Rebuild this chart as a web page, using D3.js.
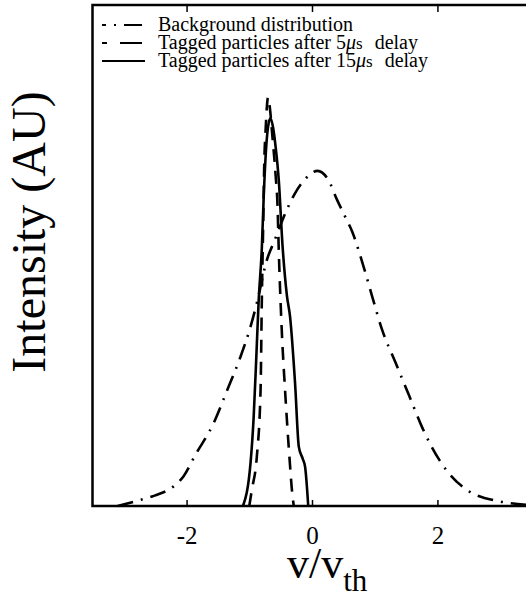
<!DOCTYPE html>
<html>
<head>
<meta charset="utf-8">
<script src="https://d3js.org/d3.v7.min.js"></script>
<style>
  body { margin: 0; background: #fff; }
  text { font-family: "Liberation Serif", "Times New Roman", serif; fill: #000; }
</style>
</head>
<body>
<div id="chart"></div>
<script>
// background distribution (v/vth, intensity)
var bgV = [-3.1, -2.8, -2.55, -2.18, -2.05, -1.86, -1.57, -1.35, -1.14, -0.98, -0.88, -0.72, -0.6, -0.41, -0.28, -0.12, 0.09, 0.26, 0.40, 0.53, 0.64, 0.81, 0.96, 1.12, 1.33, 1.55, 1.76, 2.04, 2.47, 3.0, 3.5];
var bgI = [0.0, 0.010, 0.019, 0.042, 0.059, 0.102, 0.165, 0.232, 0.298, 0.358, 0.405, 0.491, 0.529, 0.589, 0.622, 0.651, 0.669, 0.651, 0.611, 0.577, 0.548, 0.483, 0.418, 0.351, 0.287, 0.220, 0.156, 0.090, 0.032, 0.009, 0.002];

// tagged after 5 us
var t5V = [-1.00, -0.96, -0.88, -0.82, -0.80, -0.78, -0.76, -0.74, -0.70, -0.66, -0.64, -0.58, -0.55, -0.53, -0.48, -0.43, -0.36, -0.31, -0.29];
var t5I = [0.0, 0.032, 0.098, 0.232, 0.411, 0.55, 0.69, 0.75, 0.816, 0.78, 0.75, 0.66, 0.60, 0.511, 0.345, 0.232, 0.098, 0.019, 0.0];

// tagged after 15 us
var t15V = [-1.10, -0.98, -0.93, -0.89, -0.85, -0.80, -0.77, -0.73, -0.69, -0.66, -0.62, -0.58, -0.53, -0.47, -0.40, -0.35, -0.27, -0.21, -0.15, -0.11, -0.06];
var t15I = [0.0, 0.086, 0.178, 0.291, 0.411, 0.515, 0.617, 0.717, 0.765, 0.774, 0.755, 0.717, 0.651, 0.52, 0.42, 0.378, 0.245, 0.118, 0.095, 0.078, 0.0];

var xTicks = [-2, 0, 2];
var legendLabels = ["Background distribution", "Tagged particles after 5", "Tagged particles after 15"];

var width = 526, height = 597;
var svg = d3.select("#chart").append("svg")
    .attr("width", width)
    .attr("height", height);

var x = d3.scaleLinear().domain([-3.5, 3.5]).range([92.5, 531.5]);
var y = d3.scaleLinear().domain([0, 1]).range([506, 5]);

function zipData(vs, is) {
  return vs.map(function(v, i) { return { v: v, I: is[i] }; });
}

var line = d3.line()
    .x(function(d) { return x(d.v); })
    .y(function(d) { return y(d.I); })
    .curve(d3.curveMonotoneX);

var series = [
  { data: zipData(bgV, bgI), dash: "16,8,2,8" },
  { data: zipData(t5V, t5I), dash: "13,9" },
  { data: zipData(t15V, t15I), dash: null }
];

svg.selectAll(".curve")
    .data(series)
    .enter()
    .append("path")
    .attr("class", "curve")
    .attr("d", function(d) { return line(d.data); })
    .style("fill", "none")
    .style("stroke", "black")
    .style("stroke-width", 2.6)
    .style("stroke-dasharray", function(d) { return d.dash; });

// frame
svg.append("rect")
    .attr("x", x.range()[0])
    .attr("y", y.range()[1])
    .attr("width", x.range()[1] - x.range()[0])
    .attr("height", y.range()[0] - y.range()[1])
    .style("fill", "none")
    .style("stroke", "black")
    .style("stroke-width", 2.5);

// bottom axis, ticks pointing in
var xAxis = svg.append("g")
    .attr("transform", "translate(0," + y.range()[0] + ")")
    .call(d3.axisBottom(x).tickValues(xTicks).tickSize(-6).tickPadding(20)
          .tickFormat(function(d) { return String(d); }));
xAxis.select(".domain").remove();
xAxis.selectAll("line").style("stroke-width", 1.5);
xAxis.selectAll("text")
    .style("font-family", "'Liberation Serif', serif")
    .style("font-size", "25px");

// top axis, ticks pointing down
var topAxis = svg.append("g")
    .attr("transform", "translate(0," + y.range()[1] + ")")
    .call(d3.axisTop(x).tickValues(xTicks).tickSize(-7).tickFormat(""));
topAxis.select(".domain").remove();
topAxis.selectAll("line").style("stroke-width", 1.5);

// axis titles
var xl = svg.append("text")
    .attr("x", 287)
    .attr("y", 578)
    .style("font-size", "44px");
xl.append("tspan").text("v/v");
xl.append("tspan").attr("dy", 13).style("font-size", "31px").text("th");

svg.append("text")
    .attr("transform", "translate(45,232) rotate(-90)")
    .attr("text-anchor", "middle")
    .style("font-size", "48px")
    .text("Intensity (AU)");

// legend
var legendDash = ["4,8,2,8,18", "5,13,22", null];
var legendY = [31, 49, 67];
var lg = svg.selectAll(".leg")
    .data(legendLabels)
    .enter()
    .append("g")
    .attr("class", "leg")
    .attr("transform", function(d, i) { return "translate(0," + legendY[i] + ")"; });

lg.append("line")
    .attr("x1", 102)
    .attr("x2", function(d, i) { return i == 2 ? 145 : 142; })
    .attr("y1", -6)
    .attr("y2", -6)
    .style("stroke", "black")
    .style("stroke-width", 2.2)
    .style("stroke-dasharray", function(d, i) { return legendDash[i]; });

var lt = lg.append("text")
    .attr("x", 158)
    .attr("y", 0)
    .style("font-size", "20px");
lt.append("tspan").text(function(d) { return d; });
lt.filter(function(d, i) { return i > 0; }).each(function() {
  var t = d3.select(this);
  t.append("tspan").style("font-style", "italic").text("\u03bc");
  t.append("tspan").style("font-size", "17px").text("s");
  t.append("tspan").attr("dx", 12).text("delay");
});
</script>
</body>
</html>
